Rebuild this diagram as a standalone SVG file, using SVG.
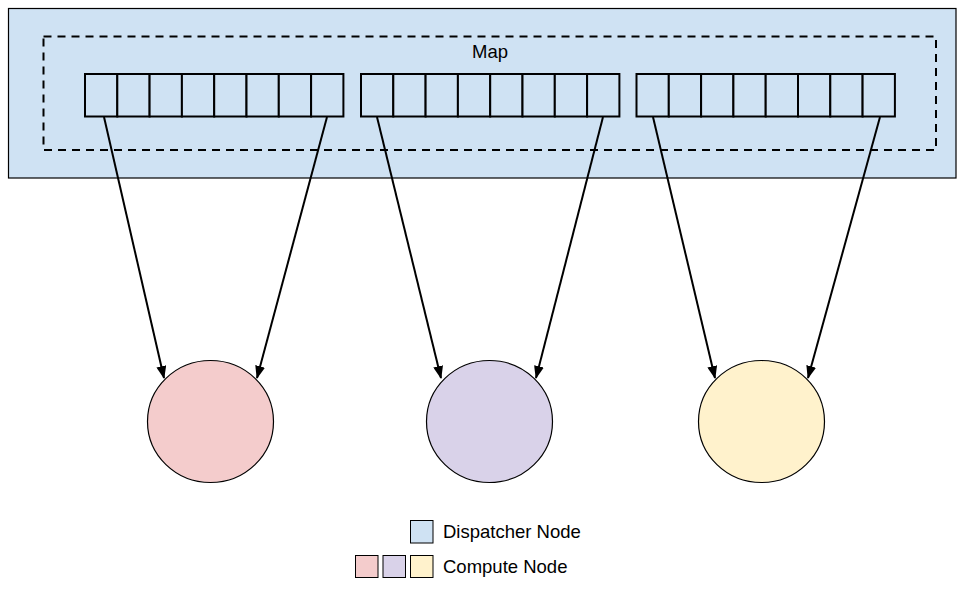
<svg xmlns="http://www.w3.org/2000/svg" width="964" height="599" viewBox="0 0 964 599">
<style>
.txt{font-family:"Liberation Sans",Arial,sans-serif;font-size:18.5px;fill:#000}
.cell{fill:#cfe2f3;stroke:#000;stroke-width:2}
.conn{stroke:#000;stroke-width:2;fill:none;marker-end:url(#ah)}
.node{stroke:#000;stroke-width:1.2}
.leg{stroke:#000;stroke-width:1}
</style>
<defs>
<marker id="ah" markerWidth="13" markerHeight="10" refX="12" refY="5" orient="auto" markerUnits="userSpaceOnUse">
<path d="M0,0 L13,5 L0,10 z" fill="#000"/>
</marker>
<g id="arr">
<rect class="cell" x="0" y="0" width="32.3" height="42.5"/>
<rect class="cell" x="32.3" y="0" width="32.3" height="42.5"/>
<rect class="cell" x="64.6" y="0" width="32.3" height="42.5"/>
<rect class="cell" x="96.9" y="0" width="32.3" height="42.5"/>
<rect class="cell" x="129.2" y="0" width="32.3" height="42.5"/>
<rect class="cell" x="161.5" y="0" width="32.3" height="42.5"/>
<rect class="cell" x="193.8" y="0" width="32.3" height="42.5"/>
<rect class="cell" x="226.1" y="0" width="32.3" height="42.5"/>
</g>
</defs>
<g id="dispatcher">
<rect x="8.5" y="8.5" width="947.5" height="169.5" fill="#cfe2f3" stroke="#000" stroke-width="1.2"/>
</g>
<g id="map">
<rect x="43.5" y="36.5" width="892.5" height="113.5" fill="none" stroke="#000" stroke-width="2" stroke-dasharray="8,6"/>
<text class="txt" x="490" y="58" text-anchor="middle">Map</text>
</g>
<g id="array1"><use href="#arr" x="85" y="74"/></g>
<g id="array2"><use href="#arr" x="361" y="74"/></g>
<g id="array3"><use href="#arr" x="636.5" y="74"/></g>
<g id="compute1"><ellipse class="node" cx="210.5" cy="421.5" rx="63" ry="61" fill="#f4cccc"/></g>
<g id="compute2"><ellipse class="node" cx="489.5" cy="421.5" rx="63" ry="61" fill="#d9d2e9"/></g>
<g id="compute3"><ellipse class="node" cx="761.5" cy="421.5" rx="63" ry="61" fill="#fff2cc"/></g>
<g id="connectors">
<line class="conn" x1="104" y1="117" x2="164" y2="378"/>
<line class="conn" x1="327" y1="117" x2="257" y2="378"/>
<line class="conn" x1="377" y1="117" x2="441" y2="378"/>
<line class="conn" x1="603" y1="117" x2="536" y2="378"/>
<line class="conn" x1="653" y1="117" x2="715" y2="378"/>
<line class="conn" x1="880" y1="117" x2="808" y2="378"/>
</g>
<g id="legend">
<rect class="leg" x="410.5" y="520.5" width="22.5" height="22.5" fill="#cfe2f3"/>
<text class="txt" x="443" y="538">Dispatcher Node</text>
<rect class="leg" x="355.5" y="555.5" width="22.5" height="22" fill="#f4cccc"/>
<rect class="leg" x="383" y="555.5" width="22.5" height="22" fill="#d9d2e9"/>
<rect class="leg" x="410.5" y="555.5" width="22.5" height="22" fill="#fff2cc"/>
<text class="txt" x="443" y="573">Compute Node</text>
</g>
</svg>
